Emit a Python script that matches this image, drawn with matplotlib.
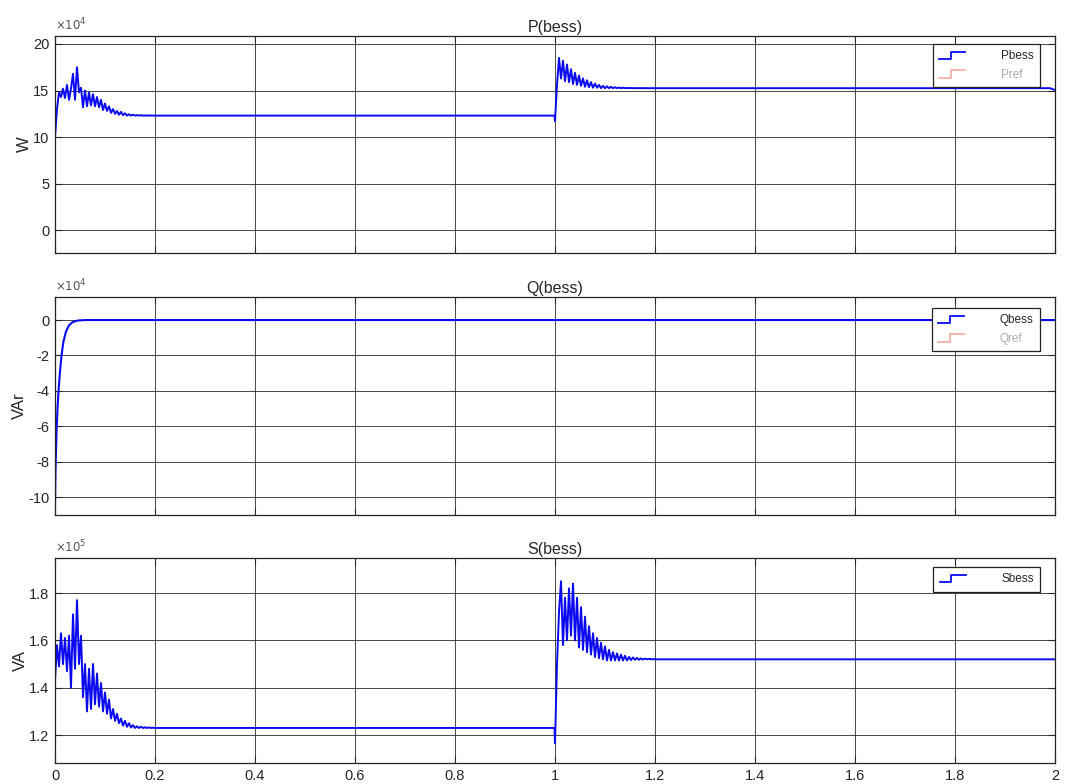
import numpy as np
import matplotlib
matplotlib.use("Agg")
import matplotlib.pyplot as plt
from matplotlib.lines import Line2D
from matplotlib.legend_handler import HandlerBase

plt.rcParams["font.family"] = ["Liberation Sans", "DejaVu Sans"]
plt.rcParams["axes.unicode_minus"] = False

# === data ===
# P(bess), x1e4 W
p_t0 = np.linspace(0.0, 0.2, 51)
p_v0 = [10.0, 13.0, 14.8, 14.3, 15.2, 14.2, 15.6, 14.0, 15.2, 16.8,
        14.0, 17.5, 14.8, 15.3, 13.2, 15.0, 13.3, 14.8, 13.4, 14.6,
        13.3, 14.3, 13.2, 14.0, 12.9, 13.6, 12.8, 13.3, 12.6, 13.0,
        12.5, 12.8, 12.4, 12.7, 12.35, 12.55, 12.3, 12.45, 12.3, 12.4,
        12.3, 12.36, 12.3, 12.34, 12.3, 12.32, 12.3, 12.32, 12.3, 12.31, 12.3]
p_t1 = np.linspace(1.0, 1.2, 51)
p_v1 = [11.7, 15.6, 18.5, 16.3, 18.2, 16.0, 17.8, 15.9, 17.3, 15.7,
        16.9, 15.6, 16.6, 15.5, 16.3, 15.4, 16.1, 15.35, 15.9, 15.3,
        15.75, 15.3, 15.6, 15.25, 15.5, 15.25, 15.45, 15.25, 15.4, 15.25,
        15.35, 15.25, 15.32, 15.25, 15.3, 15.25, 15.28, 15.25, 15.27, 15.25,
        15.26, 15.25, 15.26, 15.25, 15.26, 15.25, 15.25, 15.25, 15.25, 15.25, 15.25]
p_hold = [12.3, 15.25, 15.05]   # values at t=0.999, 1.99, 2.0

# Q(bess), x1e4 VAr
q_t = [0, 0.001, 0.003, 0.005, 0.007, 0.010, 0.013, 0.017, 0.022, 0.028,
       0.035, 0.045, 0.06, 2.0]
q_v = [-10.5, -8.5, -6.4, -5.0, -4.0, -2.9, -2.0, -1.2, -0.65, -0.3,
       -0.12, -0.03, 0.0, 0.0]

# S(bess), x1e5 VA
s_t0 = np.linspace(0.0, 0.2, 51)
s_v0 = [1.43, 1.58, 1.49, 1.63, 1.50, 1.61, 1.47, 1.62, 1.40, 1.71,
        1.48, 1.77, 1.50, 1.62, 1.36, 1.50, 1.30, 1.48, 1.31, 1.50,
        1.33, 1.46, 1.32, 1.42, 1.30, 1.38, 1.29, 1.35, 1.27, 1.31,
        1.26, 1.29, 1.25, 1.27, 1.24, 1.26, 1.235, 1.25, 1.232, 1.242,
        1.23, 1.237, 1.23, 1.235, 1.23, 1.233, 1.23, 1.232, 1.23, 1.231, 1.23]
s_t1 = np.linspace(1.0, 1.2, 51)
s_v1 = [1.165, 1.50, 1.72, 1.85, 1.58, 1.78, 1.60, 1.82, 1.62, 1.84,
        1.60, 1.78, 1.57, 1.74, 1.56, 1.70, 1.55, 1.66, 1.54, 1.63,
        1.53, 1.61, 1.525, 1.59, 1.52, 1.575, 1.515, 1.56, 1.515, 1.55,
        1.515, 1.545, 1.515, 1.54, 1.515, 1.535, 1.515, 1.53, 1.517, 1.528,
        1.518, 1.526, 1.518, 1.524, 1.519, 1.523, 1.52, 1.522, 1.52, 1.521, 1.52]
s_hold = [1.23, 1.52, 1.52]

hold_t = [0.999, 1.99, 2.0]

p_t = np.concatenate([p_t0, hold_t[:1], p_t1, hold_t[1:]])
p_v = np.concatenate([p_v0, p_hold[:1], p_v1, p_hold[1:]])
s_t = np.concatenate([s_t0, hold_t[:1], s_t1, hold_t[1:]])
s_v = np.concatenate([s_v0, s_hold[:1], s_v1, s_hold[1:]])

x_ticks = [0, 0.2, 0.4, 0.6, 0.8, 1, 1.2, 1.4, 1.6, 1.8, 2]
x_labels = ["0", "0.2", "0.4", "0.6", "0.8", "1", "1.2", "1.4", "1.6", "1.8", "2"]

BLUE = "#0a0af0"
REF = "#f2b0a8"
GRID = "#2a2a2a"
TXT = "#262626"


class StepHandler(HandlerBase):
    def create_artists(self, legend, orig_handle, xdescent, ydescent,
                       width, height, fontsize, trans):
        w, h = width, height
        xs = [0, 0.45 * w, 0.45 * w, w]
        ys = [0.0 * h, 0.0 * h, 0.95 * h, 0.95 * h]
        ln = Line2D(np.array(xs) - xdescent, np.array(ys) - ydescent,
                    color=orig_handle.get_color(), lw=1.3, transform=trans)
        return [ln]


fig = plt.figure(figsize=(10.68, 7.84), dpi=100)
W, H = 1068, 784


def make_ax(top, bottom):
    return fig.add_axes([55 / W, 1 - bottom / H, 1000 / W, (bottom - top) / H])


ax1 = make_ax(36, 253)
ax2 = make_ax(297, 515)
ax3 = make_ax(558, 763)

ax1.plot(p_t, p_v, color=BLUE, lw=1.4)
ax2.plot(q_t, q_v, color=BLUE, lw=1.5)
ax3.plot(s_t, s_v, color=BLUE, lw=1.4)

ax1.set_ylim(-2.47, 20.86)
ax1.set_yticks([0, 5, 10, 15, 20])
ax2.set_ylim(-11.0, 1.3)
ax2.set_yticks([-10, -8, -6, -4, -2, 0])
ax3.set_ylim(1.082, 1.948)
ax3.set_yticks([1.2, 1.4, 1.6, 1.8])
ax3.set_yticklabels(["1.2", "1.4", "1.6", "1.8"])

titles = ["P(bess)", "Q(bess)", "S(bess)"]
ylabels = ["W", "VAr", "VA"]
expos = [r"$\times10^{4}$", r"$\times10^{4}$", r"$\times10^{5}$"]

for ax, ttl, yl, ex in zip([ax1, ax2, ax3], titles, ylabels, expos):
    ax.set_xlim(0, 2)
    ax.set_xticks(x_ticks)
    ax.grid(True, color=GRID, lw=0.6)
    ax.set_axisbelow(True)
    ax.tick_params(direction="in", length=5, width=0.8, top=True, right=True,
                   labelsize=10.5, colors=TXT, pad=4)
    for sp in ax.spines.values():
        sp.set_color("#222222")
        sp.set_linewidth(0.9)
    ax.set_title(ttl, fontsize=11.5, color=TXT, pad=3)
    ax.set_ylabel(yl, fontsize=12, color=TXT, labelpad=1)
    ax.text(0.0, 1.012, ex, transform=ax.transAxes, fontsize=8.5,
            color="#555555", ha="left", va="bottom")

ax1.set_xticklabels([])
ax2.set_xticklabels([])
ax3.set_xticklabels(x_labels)


# legends
def add_legend(ax, names, colors, tcolors, anchor_y):
    handles = [Line2D([], [], color=c) for c in colors]
    leg = ax.legend(handles, names, handler_map={Line2D: StepHandler()},
                    loc="upper right", bbox_to_anchor=(0.985, anchor_y),
                    borderaxespad=0, fontsize=8.5, handlelength=2.2,
                    handletextpad=3.0, borderpad=0.55, labelspacing=0.55,
                    fancybox=False, framealpha=1, edgecolor="#222222")
    leg.get_frame().set_linewidth(0.9)
    for t, c in zip(leg.get_texts(), tcolors):
        t.set_color(c)
    return leg


add_legend(ax1, ["Pbess", "Pref"], [BLUE, REF], [TXT, "#aaaaaa"], 1 - 8 / 217)
add_legend(ax2, ["Qbess", "Qref"], [BLUE, REF], [TXT, "#aaaaaa"], 1 - 11 / 218)
add_legend(ax3, ["Sbess"], [BLUE], [TXT], 1 - 9 / 205)

fig.savefig("out.png", dpi=100)
